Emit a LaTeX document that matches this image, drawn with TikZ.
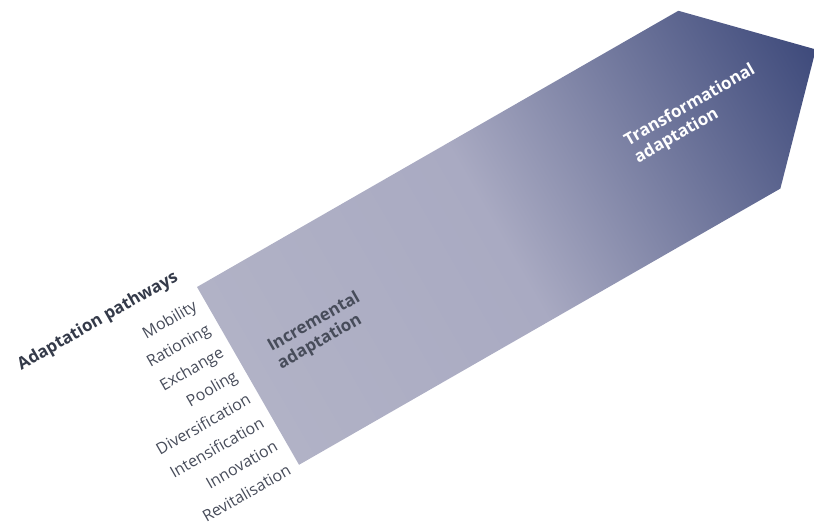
\documentclass[tikz,border=0pt]{standalone}
\usepackage{fontspec}
\setmainfont{Open Sans}
\usepackage{xcolor}

\definecolor{ink}{HTML}{343A49}
\definecolor{softink}{HTML}{474C5A}
\definecolor{pale}{HTML}{B1B2C6}
\definecolor{lavender}{HTML}{A9AAC2}
\definecolor{navy}{HTML}{3E4A7B}

% light on the left, darkening towards the tip
\pgfdeclarehorizontalshading{pathway}{100bp}{color(0bp)=(pale); color(25bp)=(pale); color(47bp)=(lavender); color(75bp)=(navy); color(100bp)=(navy)}

\begin{document}
\begin{tikzpicture}[x=1bp, y=1bp,
    item/.style={anchor=base east, inner sep=0pt, text=softink, font=\fontsize{16}{18}\selectfont},
    heading/.style={inner sep=0pt, align=left, font=\bfseries\fontsize{17}{20}\selectfont}]
    \useasboundingbox (0,0) rectangle (814,523);

    \begin{scope}[transform canvas={shift={(197,236)}, rotate=29.85}]
        % Arrow body
        \shade[shading=pathway] (0,0) -- (555,0) -- (655,-102) -- (555,-205) -- (0,-205) -- cycle;

        % Labels inside the arrow
        \node[heading, text=softink] (incremental) at (84,-99) {Incremental\\adaptation};
        \node[heading, text=white] (transformational) at (518,-98) {Transformational\\adaptation};

        % Pathways listed along the left edge
        \node[heading, text=ink, anchor=base east] (pathways) at (-12,15) {Adaptation pathways};
        \foreach \name [count=\i] in {Mobility, Rationing, Exchange, Pooling,
            Diversification, Intensification, Innovation, Revitalisation} {
            \node[item] (path-\i) at (-10, {-20-27*(\i-1)}) {\name};
        }
    \end{scope}
\end{tikzpicture}
\end{document}
